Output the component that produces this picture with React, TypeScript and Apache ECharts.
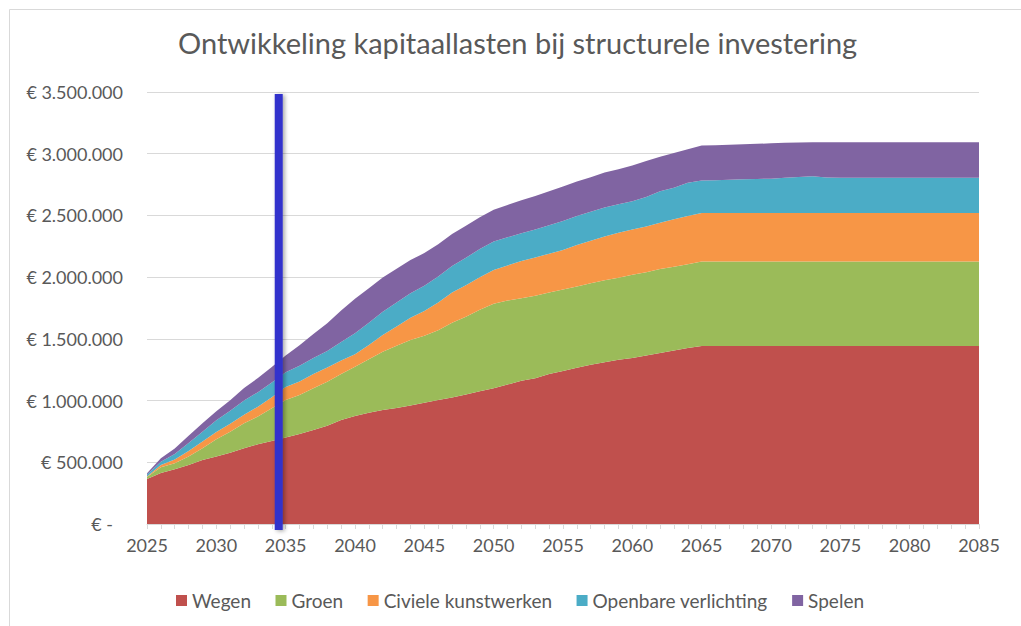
import React, { useEffect, useRef } from "react";
import * as echarts from "echarts";

const years = [
  "2025", "2026", "2027", "2028", "2029", "2030", "2031", "2032", "2033", "2034",
  "2035", "2036", "2037", "2038", "2039", "2040", "2041", "2042", "2043", "2044",
  "2045", "2046", "2047", "2048", "2049", "2050", "2051", "2052", "2053", "2054",
  "2055", "2056", "2057", "2058", "2059", "2060", "2061", "2062", "2063", "2064",
  "2065", "2066", "2067", "2068", "2069", "2070", "2071", "2072", "2073", "2074",
  "2075", "2076", "2077", "2078", "2079", "2080", "2081", "2082", "2083", "2084",
  "2085",
];

const wegen = [
  365000, 413000, 443000, 478000, 519000, 546000, 578000, 613000, 646000, 673000,
  700000, 729000, 762000, 797000, 843000, 875000, 902000, 924000, 940000, 960000,
  982000, 1005000, 1025000, 1050000, 1075000, 1100000, 1130000, 1160000, 1180000, 1215000,
  1240000, 1265000, 1290000, 1310000, 1330000, 1345000, 1365000, 1385000, 1405000, 1425000,
  1442000, 1442000, 1442000, 1442000, 1442000, 1442000, 1442000, 1442000, 1442000, 1442000,
  1442000, 1442000, 1442000, 1442000, 1442000, 1442000, 1442000, 1442000, 1442000, 1442000,
  1442000,
];

const groen = [
  15000, 47000, 49000, 68000, 94000, 140000, 170000, 203000, 224000, 264000,
  305000, 316000, 338000, 356000, 372000, 400000, 433000, 472000, 505000, 530000,
  543000, 565000, 605000, 630000, 660000, 685000, 680000, 670000, 670000, 660000,
  660000, 660000, 660000, 665000, 665000, 675000, 675000, 680000, 680000, 680000,
  684000, 684000, 684000, 684000, 684000, 684000, 684000, 684000, 684000, 684000,
  684000, 684000, 684000, 684000, 684000, 684000, 684000, 684000, 684000, 684000,
  684000,
];

const civieleKunstwerken = [
  5000, 18000, 30000, 45000, 55000, 60000, 65000, 70000, 80000, 90000,
  105000, 110000, 115000, 115000, 110000, 100000, 115000, 136000, 155000, 180000,
  200000, 225000, 245000, 255000, 265000, 273000, 285000, 300000, 310000, 315000,
  320000, 335000, 345000, 355000, 365000, 365000, 370000, 375000, 385000, 390000,
  394000, 394000, 394000, 394000, 394000, 394000, 394000, 394000, 394000, 394000,
  394000, 394000, 394000, 394000, 394000, 394000, 394000, 394000, 394000, 394000,
  394000,
];

const openbareVerlichting = [
  16000, 27000, 45000, 65000, 80000, 95000, 105000, 115000, 118000, 120000,
  120000, 128000, 130000, 134000, 150000, 170000, 180000, 188000, 195000, 200000,
  205000, 210000, 215000, 222000, 228000, 230000, 228000, 225000, 225000, 230000,
  235000, 235000, 235000, 235000, 230000, 230000, 240000, 255000, 255000, 270000,
  262000, 266000, 270000, 274000, 276000, 278000, 285000, 292000, 298000, 288000,
  286000, 286000, 286000, 286000, 286000, 286000, 286000, 286000, 286000, 286000,
  286000,
];

const spelen = [
  10000, 27000, 45000, 60000, 68000, 72000, 85000, 100000, 115000, 125000,
  135000, 165000, 195000, 225000, 255000, 280000, 280000, 278000, 272000, 268000,
  265000, 262000, 260000, 260000, 258000, 257000, 262000, 268000, 272000, 275000,
  280000, 280000, 280000, 282000, 285000, 290000, 290000, 280000, 280000, 272000,
  284000, 282000, 282000, 282000, 284000, 286000, 283000, 279000, 275000, 285000,
  287000, 287000, 287000, 287000, 287000, 287000, 287000, 287000, 287000, 287000,
  287000,
];

const seriesNames = ["Wegen", "Groen", "Civiele kunstwerken", "Openbare verlichting", "Spelen"];
const seriesColors = ["#C0504D", "#9BBB59", "#F79646", "#4BACC6", "#8064A2"];
const seriesData = [wegen, groen, civieleKunstwerken, openbareVerlichting, spelen];

const yMax = 3500000;
const yInterval = 500000;
// vertical marker sits between these two years
const markerYears = ["2034", "2035"];

const FONT = "Lato, 'Open Sans', sans-serif";
const TEXT = "#595959";

function fmtEuro(v: number): string {
  if (v === 0) return "{z|€ -}";
  return "€ " + String(v).replace(/\B(?=(\d{3})+(?!\d))/g, ".");
}

export default function App() {
  const ref = useRef<HTMLDivElement>(null);

  useEffect(() => {
    if (!ref.current) return;
    const chart = echarts.init(ref.current, undefined, { renderer: "svg" });

    const option: any = {
      animation: false,
      backgroundColor: "#ffffff",
      title: {
        text: "Ontwikkeling kapitaallasten bij structurele investering",
        left: 173,
        top: 23,
        padding: 5,
        textStyle: {
          fontFamily: FONT,
          fontSize: 29,
          fontWeight: "normal",
          color: TEXT,
        },
      },
      legend: {
        data: seriesNames,
        left: 176,
        top: 586,
        padding: [5, 0, 5, 0],
        icon: "rect",
        itemWidth: 11,
        itemHeight: 11,
        itemGap: 24.5,
        textStyle: { fontFamily: FONT, fontSize: 19, color: TEXT },
      },
      grid: { left: 147, right: 42, top: 92, bottom: 102, containLabel: false },
      xAxis: {
        type: "category",
        data: years,
        boundaryGap: false,
        axisLine: { show: true, lineStyle: { color: "#d9d9d9", width: 1 } },
        axisTick: { show: true, interval: 0, length: 5, lineStyle: { color: "#d9d9d9" } },
        axisLabel: {
          interval: 4,
          margin: 12,
          fontFamily: FONT,
          fontSize: 18,
          color: TEXT,
        },
        splitLine: { show: false },
      },
      yAxis: {
        type: "value",
        min: 0,
        max: yMax,
        interval: yInterval,
        axisLine: { show: false },
        axisTick: { show: false },
        axisLabel: {
          margin: 24,
          fontFamily: FONT,
          fontSize: 18,
          color: TEXT,
          formatter: fmtEuro,
          rich: {
            z: { fontFamily: FONT, fontSize: 18, color: TEXT, padding: [0, 10, 0, 0] },
          },
        },
        splitLine: { show: true, lineStyle: { color: "#d9d9d9", width: 1 } },
      },
      series: seriesNames.map((name, i) => ({
        name,
        type: "line",
        stack: "total",
        data: seriesData[i],
        showSymbol: false,
        symbol: "none",
        lineStyle: { width: 0, color: seriesColors[i] },
        itemStyle: { color: seriesColors[i] },
        areaStyle: { color: seriesColors[i], opacity: 1 },
        emphasis: { disabled: true },
      })),
    };

    chart.setOption(option);

    const xA = chart.convertToPixel({ xAxisIndex: 0 }, markerYears[0]) as number;
    const xB = chart.convertToPixel({ xAxisIndex: 0 }, markerYears[1]) as number;
    const yTop = chart.convertToPixel({ yAxisIndex: 0 }, yMax) as number;
    const yBot = chart.convertToPixel({ yAxisIndex: 0 }, 0) as number;
    const cx = (xA + xB) / 2;

    chart.setOption({
      graphic: [
        {
          id: "frame",
          type: "rect",
          z: -10,
          silent: true,
          shape: { x: 9.5, y: 9.5, width: 1200, height: 800 },
          style: { fill: "none", stroke: "#d9d9d9", lineWidth: 1 },
        },
        {
          id: "marker",
          type: "rect",
          z: 100,
          silent: true,
          shape: { x: cx - 4, y: yTop + 2, width: 8, height: yBot - yTop + 4 },
          style: {
            fill: "#3333CC",
            shadowBlur: 4,
            shadowOffsetX: 2,
            shadowOffsetY: 1,
            shadowColor: "rgba(0,0,0,0.35)",
          },
        },
      ],
    });

    return () => {
      chart.dispose();
    };
  }, []);

  return (
    <div
      ref={ref}
      style={{ position: "absolute", left: 0, top: 0, width: 1021, height: 626 }}
    />
  );
}
